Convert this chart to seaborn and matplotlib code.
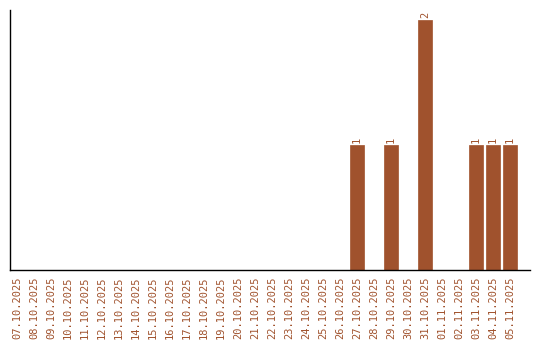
import matplotlib
matplotlib.use("Agg")
import matplotlib.pyplot as plt
import seaborn as sns
import pandas as pd

dates = ["07.10.2025", "08.10.2025", "09.10.2025", "10.10.2025", "11.10.2025",
         "12.10.2025", "13.10.2025", "14.10.2025", "15.10.2025", "16.10.2025",
         "17.10.2025", "18.10.2025", "19.10.2025", "20.10.2025", "21.10.2025",
         "22.10.2025", "23.10.2025", "24.10.2025", "25.10.2025", "26.10.2025",
         "27.10.2025", "28.10.2025", "29.10.2025", "30.10.2025", "31.10.2025",
         "01.11.2025", "02.11.2025", "03.11.2025", "04.11.2025", "05.11.2025"]
counts = [0, 0, 0, 0, 0, 0, 0, 0, 0, 0,
          0, 0, 0, 0, 0, 0, 0, 0, 0, 0,
          1, 0, 1, 0, 2, 0, 0, 1, 1, 1]

color = "#A0522D"
sns.set_style("white")
plt.rcParams["font.family"] = ["DejaVu Sans Mono"]

df = pd.DataFrame({"date": dates, "count": counts})
fig = plt.figure(figsize=(5.4, 3.4), dpi=100)
ax = fig.add_axes([10/540, 70/340, 520/540, 260/340])
sns.barplot(data=df, x="date", y="count", color=color, saturation=1, width=0.84,
            linewidth=0, ax=ax)

for p in ax.patches:
    p.set_edgecolor(color)
    p.set_linewidth(0.5)

for i, v in enumerate(counts):
    if v > 0:
        ax.text(i, v + 0.02, str(v), rotation=90, ha="center", va="bottom",
                fontsize=7.5, color=color)

ax.set_xlim(-0.41, 30.18)
ax.set_ylim(0, 2.08)
ax.set_xlabel("")
ax.set_ylabel("")
ax.set_yticks([])
ax.tick_params(axis="x", length=0, pad=5, labelsize=7.5, labelcolor=color)
plt.setp(ax.get_xticklabels(), rotation=90)
for s in ["top", "right"]:
    ax.spines[s].set_visible(False)
for s in ["left", "bottom"]:
    ax.spines[s].set_color("black")
    ax.spines[s].set_linewidth(1)

fig.savefig("out.png", dpi=100)
